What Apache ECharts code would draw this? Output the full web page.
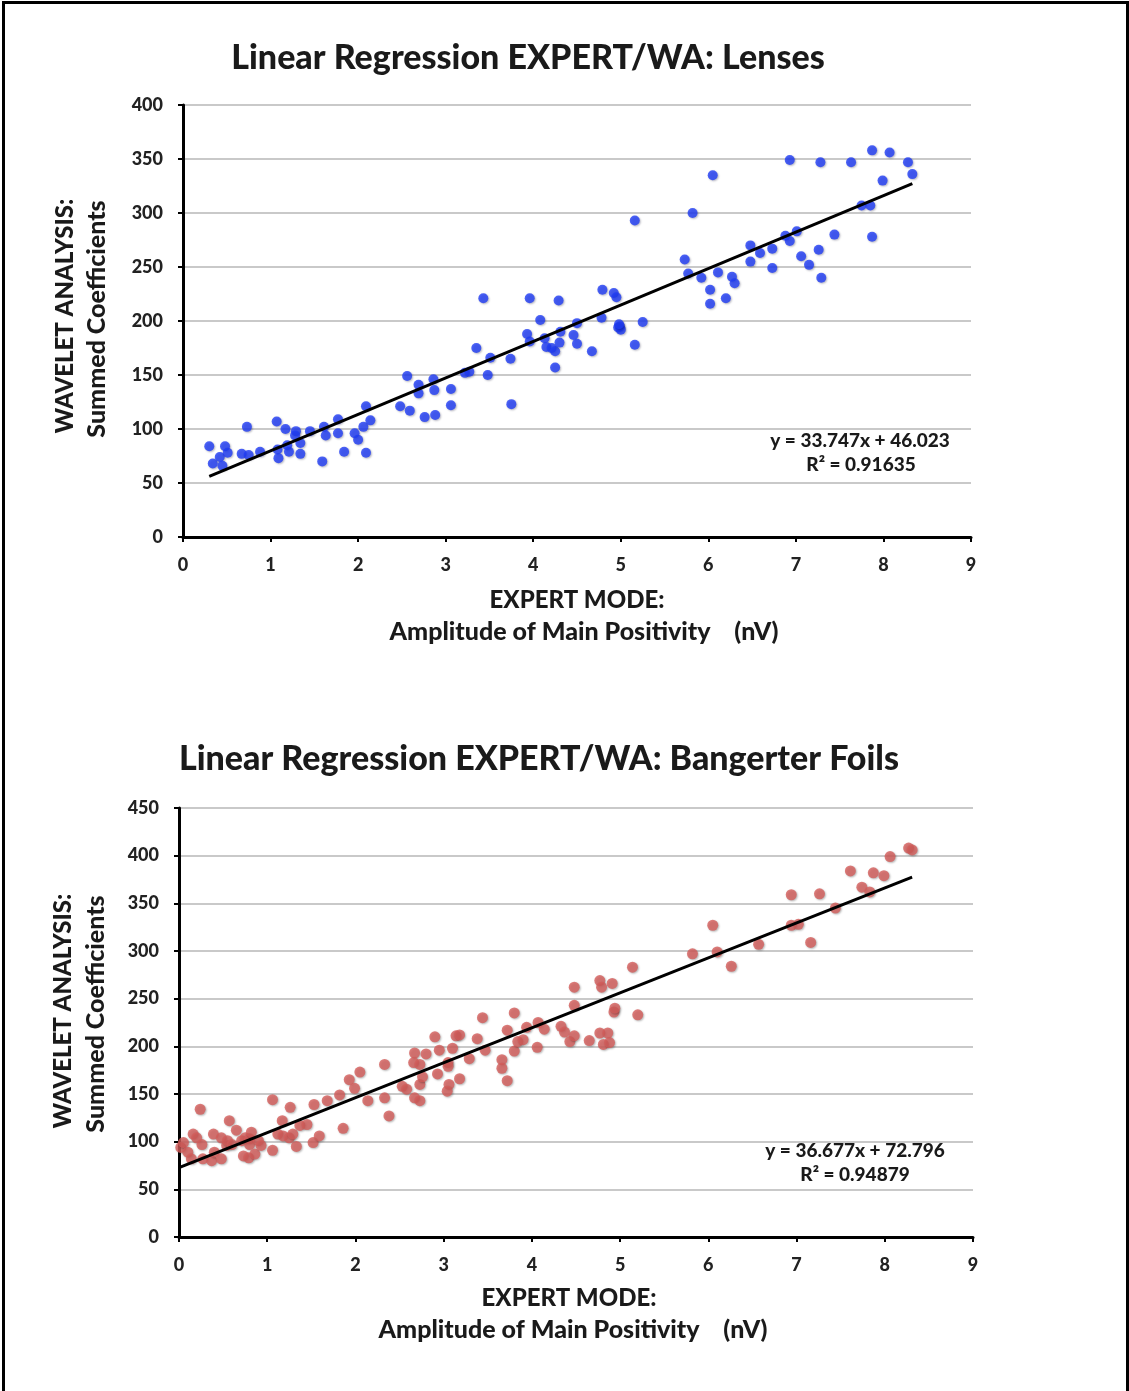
<!DOCTYPE html>
<html>
<head>
<meta charset="utf-8">
<script src="https://cdn.jsdelivr.net/npm/echarts@6/dist/echarts.min.js"></script>
<style>
html,body{margin:0;padding:0;background:#fff;}
#chart{position:absolute;left:0;top:0;width:1129px;height:1391px;}
#frame{position:absolute;left:2px;top:1px;width:1121px;height:1420px;border:3px solid #000;pointer-events:none;}
</style>
</head>
<body>
<div id="chart"></div>
<div id="frame"></div>
<script>
// ---------- DATA ----------
const lensesX = [0.30,0.34,0.42,0.45,0.48,0.51,0.73,0.67,0.75,0.88,1.07,1.08,1.09,1.17,1.19,1.21,1.29,1.28,1.34,1.34,
  1.45,1.59,1.61,1.63,1.77,1.77,1.84,1.96,2.00,2.06,2.09,2.14,2.09,2.48,2.59,2.56,2.69,2.69,2.76,2.86,
  2.87,2.88,3.06,3.06,3.22,3.27,3.35,3.48,3.51,3.43,3.74,3.75,3.93,3.96,4.08,3.96,4.13,4.15,4.21,4.25,
  4.25,4.29,4.30,4.31,4.46,4.50,4.50,4.67,4.79,4.78,4.92,4.95,4.97,4.99,5.00,4.98,5.16,5.16,5.25,5.73,
  5.77,5.82,5.92,6.02,6.02,6.05,6.11,6.20,6.27,6.30,6.48,6.48,6.59,6.73,6.73,6.88,6.93,6.93,7.01,7.06,
  7.15,7.26,7.28,7.29,7.44,7.63,7.75,7.85,7.87,7.87,7.99,8.07,8.28,8.33];
const lensesY = [84,68,74,66,84,78,102,77,76,79,107,81,73,100,85,79,98,94,87,77,
  98,70,102,94,109,96,79,96,90,102,121,108,78,121,117,149,141,133,111,146,
  136,113,137,122,152,153,175,150,166,221,165,123,188,221,201,181,184,176,175,172,
  157,219,180,190,187,198,179,172,229,203,226,222,194,195,192,197,293,178,199,257,
  244,300,240,229,216,335,245,221,241,235,270,255,263,267,249,279,274,349,283,260,
  252,266,347,240,280,347,307,307,278,358,330,356,347,336];

const foilsX = [0.02,0.05,0.10,0.14,0.16,0.20,0.24,0.26,0.27,0.37,0.39,0.40,0.48,0.48,0.54,0.55,0.57,0.60,0.65,0.71,
  0.73,0.75,0.79,0.80,0.80,0.82,0.86,0.90,0.93,1.06,1.06,1.12,1.17,1.18,1.25,1.26,1.29,1.33,1.37,1.45,
  1.52,1.53,1.59,1.68,1.82,1.86,1.93,1.99,2.05,2.14,2.33,2.33,2.38,2.53,2.58,2.67,2.66,2.67,2.73,2.73,
  2.73,2.76,2.80,2.90,2.93,2.95,3.05,3.05,3.06,3.04,3.10,3.14,3.18,3.18,3.29,3.38,3.44,3.47,3.66,3.66,
  3.72,3.72,3.80,3.80,3.84,3.90,3.94,4.06,4.07,4.14,4.33,4.37,4.43,4.48,4.48,4.48,4.65,4.77,4.77,4.79,
  4.81,4.86,4.88,4.91,4.93,4.94,5.14,5.20,5.82,6.05,6.10,6.26,6.57,6.94,6.94,7.02,7.16,7.26,7.44,7.61,
  7.74,7.83,7.87,7.99,8.06,8.27,8.31];
const foilsY = [94,99,89,82,108,104,134,97,82,80,108,89,104,82,96,101,122,97,112,101,
  85,104,83,103,97,110,87,101,96,144,91,108,122,106,104,136,108,95,117,118,
  99,139,106,143,149,114,165,156,173,143,181,146,127,158,155,193,183,146,181,160,
  143,168,192,210,171,196,183,179,160,153,198,211,212,166,187,208,230,196,186,177,
  217,164,235,195,205,207,220,199,225,218,221,215,205,211,243,262,206,214,269,262,
  202,214,204,266,236,240,283,233,297,327,299,284,307,359,327,328,309,360,345,384,
  367,362,382,379,399,408,406];

const xTicks = [0,1,2,3,4,5,6,7,8,9];
const lensesYTicks = [0,50,100,150,200,250,300,350,400];
const foilsYTicks = [0,50,100,150,200,250,300,350,400,450];

const titles = ['Linear Regression EXPERT/WA: Lenses', 'Linear Regression EXPERT/WA: Bangerter Foils'];
const xNameLines = ['EXPERT MODE:', 'Amplitude of Main Positivity    (nV)'];
const yNameLines = ['WAVELET ANALYSIS:', 'Summed Coefficients'];
const slopes = [33.747, 36.677];
const intercepts = [46.023, 72.796];
const r2s = ['0.91635', '0.94879'];

// ---------- BUILD ----------
const FONT = 'Lato';
const W = 900;
const pairs = (xs, ys) => xs.map((x, i) => [x, ys[i]]);
function fitLine(xs, k) {
  const lo = Math.min(...xs), hi = Math.max(...xs);
  return [[lo, slopes[k] * lo + intercepts[k]], [hi, slopes[k] * hi + intercepts[k]]];
}
const foilsLine = (() => { const l = fitLine(foilsX, 1); return [[0, intercepts[1]], l[1]]; })();

function xAxisCfg(gi) {
  return {
    gridIndex: gi, type: 'value', min: xTicks[0], max: xTicks[xTicks.length - 1], interval: 1,
    axisLine: { show: true, onZero: false, lineStyle: { color: '#000', width: 3 } },
    axisTick: { show: true, length: 5, lineStyle: { color: '#000', width: 2 } },
    axisLabel: { color: '#222', fontFamily: FONT, fontWeight: W, fontSize: 18, margin: 19 },
    splitLine: { show: false }
  };
}
function yAxisCfg(gi, ticks) {
  return {
    gridIndex: gi, type: 'value', min: ticks[0], max: ticks[ticks.length - 1], interval: 50,
    axisLine: { show: true, onZero: false, lineStyle: { color: '#000', width: 3 } },
    axisTick: { show: true, length: 5, lineStyle: { color: '#000', width: 2 } },
    axisLabel: { color: '#222', fontFamily: FONT, fontWeight: W, fontSize: 18, margin: 20 },
    splitLine: { show: true, lineStyle: { color: '#c9c9c9', width: 2 } }
  };
}

function txt(x, y, s, size, rot) {
  return {
    type: 'text', x: x, y: y, rotation: rot || 0, z: 100,
    style: { text: s, fill: '#1a1a1a', font: W + ' ' + size + 'px ' + FONT, textAlign: 'center', textVerticalAlign: 'middle' }
  };
}

const chart = echarts.init(document.getElementById('chart'), null, { renderer: 'canvas' });
chart.setOption({
  backgroundColor: '#fff',
  animation: false,
  grid: [
    { left: 183, top: 105, width: 788, height: 432 },
    { left: 179, top: 808, width: 794, height: 429 }
  ],
  xAxis: [xAxisCfg(0), xAxisCfg(1)],
  yAxis: [yAxisCfg(0, lensesYTicks), yAxisCfg(1, foilsYTicks)],
  series: [
    { type: 'scatter', xAxisIndex: 0, yAxisIndex: 0, data: pairs(lensesX, lensesY), symbolSize: 10,
      itemStyle: { color: '#1f3cf5', shadowBlur: 2, shadowColor: 'rgba(0,0,40,0.35)', shadowOffsetX: 1, shadowOffsetY: 1 } },
    { type: 'line', xAxisIndex: 0, yAxisIndex: 0, data: fitLine(lensesX, 0), symbol: 'none', z: 5,
      lineStyle: { color: '#000', width: 3 } },
    { type: 'scatter', xAxisIndex: 1, yAxisIndex: 1, data: pairs(foilsX, foilsY), symbolSize: 11,
      itemStyle: { color: '#d45c5a', shadowBlur: 2, shadowColor: 'rgba(0,0,0,0.35)', shadowOffsetX: 1, shadowOffsetY: 1 } },
    { type: 'line', xAxisIndex: 1, yAxisIndex: 1, data: foilsLine, symbol: 'none', z: 5,
      lineStyle: { color: '#000', width: 3 } }
  ],
  graphic: [
    txt(528, 58, titles[0], 34),
    txt(539, 759, titles[1], 34),
    txt(577, 600, xNameLines[0], 24),
    txt(584, 632, xNameLines[1], 25),
    txt(569, 1298, xNameLines[0], 24),
    txt(573, 1330, xNameLines[1], 25),
    txt(65, 316, yNameLines[0], 24, Math.PI / 2),
    txt(97, 319, yNameLines[1], 25, Math.PI / 2),
    txt(63, 1011, yNameLines[0], 24, Math.PI / 2),
    txt(96, 1014, yNameLines[1], 25, Math.PI / 2),
    txt(860, 441, 'y = ' + slopes[0] + 'x + ' + intercepts[0], 19),
    txt(861, 465, 'R² = ' + r2s[0], 19),
    txt(855, 1151, 'y = ' + slopes[1] + 'x + ' + intercepts[1], 19),
    txt(855, 1175, 'R² = ' + r2s[1], 19)
  ]
});
</script>
</body>
</html>
